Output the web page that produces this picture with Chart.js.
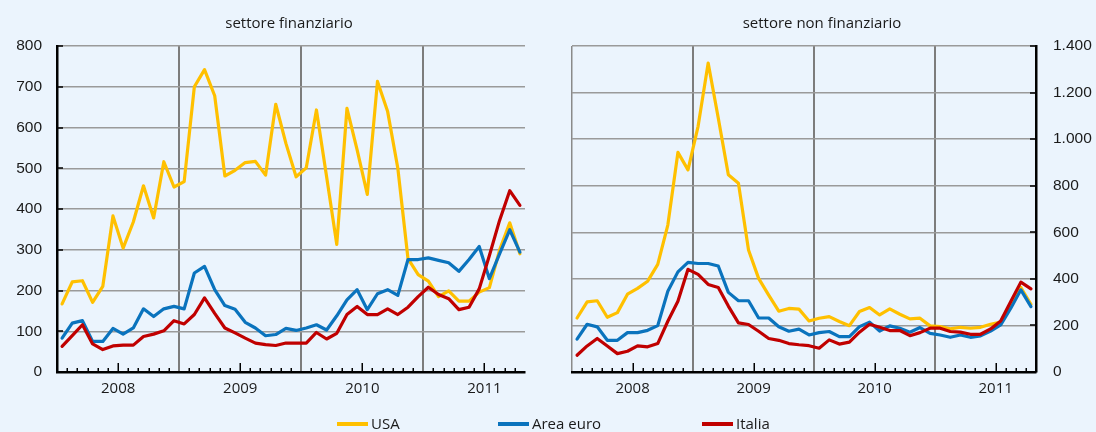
<!DOCTYPE html>
<html lang="it">
<head>
<meta charset="utf-8">
<title>Settore finanziario e non finanziario</title>
<script src="https://cdn.jsdelivr.net/npm/chart.js@4/dist/chart.umd.min.js"></script>
<style>
  html, body { margin: 0; padding: 0; background: #ebf4fd; }
  #wrap { position: relative; width: 1096px; height: 432px; background: #ebf4fd; overflow: hidden;
          font-family: 'Open Sans', 'DejaVu Sans', sans-serif; color: #1a1a1a; }
  canvas { position: absolute; top: 0; }
  #cLeft { left: 0; }
  #cRight { left: 548px; }
  .title { position: absolute; top: 12px; font-size: 15px; line-height: 20px; white-space: nowrap;
           transform: translateX(-50%); }
  .leg { position: absolute; top: 413px; font-size: 15px; line-height: 20px; white-space: nowrap; }
  .leg i { display: inline-block; width: 31px; height: 4px; vertical-align: middle; margin-right: 3px;
           position: relative; top: -1px; }
</style>
</head>
<body>
<div id="wrap">
  <canvas id="cLeft" width="548" height="432"></canvas>
  <canvas id="cRight" width="548" height="432"></canvas>
  <div class="title" style="left:289px">settore finanziario</div>
  <div class="title" style="left:822px">settore non finanziario</div>
  <div class="leg" style="left:337px"><i style="background:#ffc000"></i>USA</div>
  <div class="leg" style="left:498px"><i style="background:#0a73bd"></i>Area euro</div>
  <div class="leg" style="left:702px"><i style="background:#c00000"></i>Italia</div>
</div>
<script>
// Monthly observations, January 2008 - October 2011
const years = [2008, 2009, 2010, 2011];
const monthNames = ['gen', 'feb', 'mar', 'apr', 'mag', 'giu', 'lug', 'ago', 'set', 'ott', 'nov', 'dic'];
const monthsInLastYear = 10;
const categories = [];
years.forEach((y, yi) => monthNames.forEach((m, k) => {
  if (yi < years.length - 1 || k < monthsInLastYear) categories.push(m + ' ' + y);
}));

// Settore finanziario (scala di sinistra)
const finUSA  = [167, 221, 224, 171, 210, 383, 304, 368, 457, 378, 516, 454,
                 467, 700, 742, 678, 481, 495, 514, 517, 483, 657, 561, 479,
                 501, 643, 479, 313, 647, 545, 436, 713, 639, 500, 278, 239,
                 223, 185, 199, 174, 174, 196, 207, 299, 366, 290];
const finEuro = [ 83, 120, 126,  75,  75, 107,  93, 108, 155, 136, 155, 161,
                 155, 243, 259, 202, 163, 154, 122, 108,  89,  92, 107, 102,
                 108, 116, 103, 138, 177, 202, 153, 192, 202, 188, 276, 276,
                 280, 274, 268, 247, 276, 308, 229, 290, 349, 294];
const finIta  = [ 63,  89, 116,  69,  55,  64,  66,  66,  87,  93, 101, 126,
                 118, 141, 182, 144, 108,  96,  83,  71,  67,  65,  71,  71,
                  71,  97,  81,  95, 141, 161, 141, 141, 155, 141, 159, 185,
                 208, 190, 180, 153, 159, 204, 286, 372, 445, 409];

// Settore non finanziario (scala di destra)
const nonfUSA  = [232, 301, 306, 235, 255, 334, 359, 390, 462, 631, 943, 868,
                  1055, 1327, 1091, 847, 811, 524, 402, 330, 261, 273, 270, 219,
                  231, 238, 217, 199, 260, 277, 245, 271, 248, 228, 231, 198,
                  195, 185, 192, 188, 192, 205, 214, 288, 363, 291];
const nonfEuro = [141, 205, 194, 136, 136, 169, 169, 179, 199, 347, 430, 471,
                  466, 466, 455, 342, 306, 306, 232, 232, 194, 175, 184, 159,
                  169, 174, 152, 152, 195, 214, 176, 198, 188, 171, 191, 166,
                  159, 149, 159, 149, 155, 176, 202, 274, 353, 281];
const nonfIta  = [ 72, 112, 144, 112,  79,  89, 112, 108, 122, 218, 304, 441,
                  419, 376, 363, 283, 211, 204, 175, 144, 136, 122, 117, 113,
                  102, 138, 120, 128, 171, 205, 192, 178, 178, 156, 169, 188,
                  188, 174, 171, 162, 162, 185, 219, 303, 386, 357];

const finTicks  = { min: 0, max: 800,  step: 100 };
const nonfTicks = { min: 0, max: 1400, step: 200 };

const COLORS = { usa: '#ffc000', euro: '#0a73bd', ita: '#c00000' };
const TEXT = '#1a1a1a';

function thousands(v) {
  return String(v).replace(/\B(?=(\d{3})+(?!\d))/g, '.');
}

// short tick marks pointing into the plot area, monthly on x, at every value on y
const innerTicks = {
  id: 'innerTicks',
  afterDraw(chart) {
    const { ctx, chartArea } = chart;
    const xs = chart.scales.x, ys = chart.scales.y;
    const right = ys.options.position === 'right';
    ctx.save();
    ctx.strokeStyle = '#000';
    ctx.lineWidth = 1.5;
    ctx.beginPath();
    for (let i = 1; i < categories.length; i++) {
      if (i % 12 === 0) continue;
      const px = Math.round(xs.getPixelForValue(i - 0.5)) + 0.25;
      const len = (i % 12 === 6) ? 9 : 4;
      ctx.moveTo(px, chartArea.bottom);
      ctx.lineTo(px, chartArea.bottom - len);
    }
    ys.ticks.forEach(t => {
      if (t.value === ys.min) return;
      const py = Math.round(ys.getPixelForValue(t.value));
      const ax = right ? chartArea.right : chartArea.left;
      ctx.moveTo(ax, py);
      ctx.lineTo(right ? ax - 6 : ax + 6, py);
    });
    ctx.stroke();
    ctx.restore();
  }
};

function makeChart(canvasId, series, range, side) {
  const right = side === 'right';
  const n = categories.length;
  return new Chart(document.getElementById(canvasId), {
    type: 'line',
    data: {
      labels: categories,
      datasets: [
        { label: 'USA',       data: series[0], borderColor: COLORS.usa,  order: 2 },
        { label: 'Area euro', data: series[1], borderColor: COLORS.euro, order: 1 },
        { label: 'Italia',    data: series[2], borderColor: COLORS.ita,  order: 0 }
      ]
    },
    options: {
      responsive: false,
      animation: false,
      events: [],
      layout: { padding: right ? { top: 46, left: 24, right: 0, bottom: 0 }
                               : { top: 46, left: 0, right: 23, bottom: 0 } },
      elements: {
        line: { borderWidth: 3.2, tension: 0, fill: false, borderJoinStyle: 'round', borderCapStyle: 'round' },
        point: { radius: 0 }
      },
      plugins: { legend: { display: false }, tooltip: { enabled: false }, title: { display: false } },
      scales: {
        x: {
          type: 'category',
          offset: true,
          afterFit(s) { s.height = 60; },
          grid: {
            offset: true,
            drawTicks: false,
            color(c) {
              const i = c.index;
              if (!right && i === 0) return 'transparent';
              if (right && i === n) return 'transparent';
              if (i === 0 || i === n) return '#8a8a8a';
              return (i % 12 === 0) ? '#7c7c7c' : 'transparent';
            },
            lineWidth(c) { return (c.index % 12 === 0 && c.index !== 0) ? 2 : 1.5; }
          },
          border: { display: true, color: '#000', width: 2.5 },
          ticks: {
            autoSkip: false,
            maxRotation: 0,
            padding: 8,
            labelOffset: -5,
            color: TEXT,
            font: { family: "'Open Sans', sans-serif", size: 15 },
            callback(v, i) { return (i % 12 === 6) ? String(years[Math.floor(i / 12)]) : ''; }
          }
        },
        y: {
          position: side,
          min: range.min,
          max: range.max,
          afterFit(s) { s.width = right ? 60 : 57; },
          grid: {
            drawTicks: false,
            color(c) { return c.tick && c.tick.value === range.min ? 'transparent' : '#9a9a9a'; },
            lineWidth: 1.5
          },
          border: { display: true, color: '#000', width: 2.5 },
          ticks: {
            stepSize: range.step,
            padding: right ? 17 : 15,
            color: TEXT,
            font: { family: "'Liberation Sans', Arial, sans-serif", size: 15.5 },
            callback(v) { return thousands(v); }
          }
        }
      }
    },
    plugins: [innerTicks]
  });
}

makeChart('cLeft',  [finUSA, finEuro, finIta],    finTicks,  'left');
makeChart('cRight', [nonfUSA, nonfEuro, nonfIta], nonfTicks, 'right');
</script>
</body>
</html>
